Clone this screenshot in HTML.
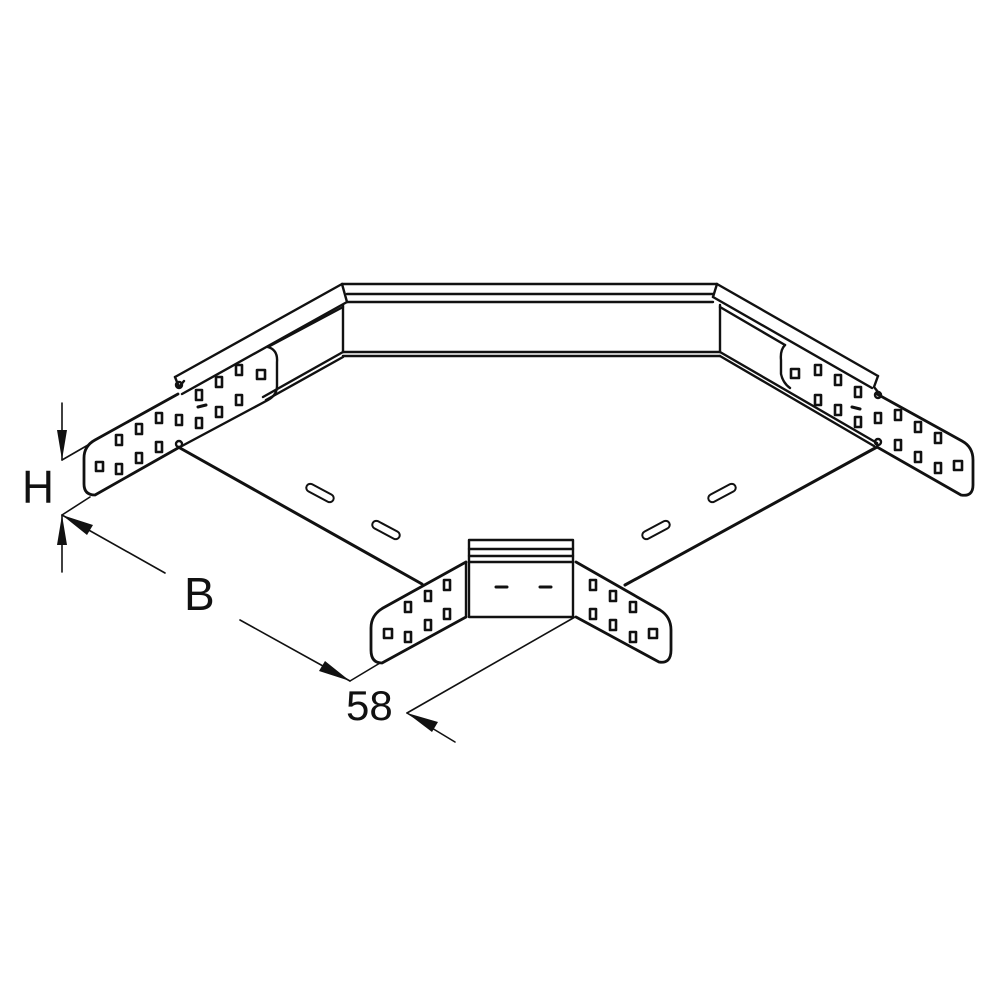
<!DOCTYPE html>
<html><head><meta charset="utf-8"><style>html,body{margin:0;padding:0;background:#fff}svg{display:block}</style></head>
<body>
<svg width="1000" height="1000" viewBox="0 0 1000 1000" xmlns="http://www.w3.org/2000/svg" fill="none" stroke="#111" stroke-width="2.4" stroke-linejoin="round" stroke-linecap="round">
<!-- back wall -->
<line x1="342" y1="284" x2="717" y2="284"/>
<line x1="347" y1="294" x2="713" y2="294"/>
<line x1="347" y1="302" x2="713" y2="302"/>
<line x1="342" y1="284" x2="347" y2="302"/>
<line x1="717" y1="284" x2="713" y2="297"/>
<line x1="343" y1="305" x2="343" y2="352"/>
<line x1="720" y1="305" x2="720" y2="352"/>
<line x1="343" y1="352" x2="720" y2="352"/>
<line x1="343" y1="356" x2="720" y2="356"/>
<!-- left wall -->
<line x1="342" y1="284" x2="175" y2="377"/>
<line x1="347" y1="302" x2="182" y2="394"/>
<path d="M175 377 L179 387 L184 381"/>
<line x1="343" y1="307" x2="268" y2="347"/>
<line x1="343" y1="352" x2="263" y2="397"/>
<line x1="343" y1="357" x2="266" y2="400"/>
<path d="M268 347 Q278 350 277 362 L277 386 Q277 395 268 400 L180 447"/>
<path d="M178 394 L95 440 Q84 446 84 458 L84 484 Q84 495 95 495 L178 448" stroke-width="2.8"/>
<circle cx="179" cy="385" r="3"/>
<circle cx="179" cy="444" r="3"/>
<!-- right wall -->
<line x1="717" y1="284" x2="878" y2="376"/>
<line x1="713" y1="297" x2="872" y2="388"/>
<path d="M878 376 L874 387 L878 392"/>
<line x1="720" y1="307" x2="785" y2="345"/>
<line x1="720" y1="352" x2="877" y2="443"/>
<line x1="720" y1="356" x2="874" y2="446"/>
<path d="M785 345 Q780 350 781 360 L781 374 Q783 383 790 388"/>
<path d="M877 394 L962 441 Q973 447 973 460 L973 485 Q973 497 961 495 L877 447" stroke-width="2.8"/>
<circle cx="878" cy="395" r="3"/>
<circle cx="878" cy="442" r="3"/>
<!-- floor edges -->
<line x1="180" y1="448" x2="422" y2="584" stroke-width="3"/>
<line x1="877" y1="447" x2="625" y2="585" stroke-width="3"/>
<!-- slots -->
<g stroke-width="2">
<rect x="305" y="489" width="30" height="8" rx="4" transform="rotate(28 320 493)"/>
<rect x="371" y="526" width="30" height="8" rx="4" transform="rotate(28 386 530)"/>
<rect x="707" y="489" width="30" height="8" rx="4" transform="rotate(-28 722 493)"/>
<rect x="641" y="526" width="30" height="8" rx="4" transform="rotate(-28 656 530)"/>
</g>
<!-- center box -->
<rect x="469" y="540" width="104" height="77"/>
<line x1="469" y1="549" x2="573" y2="549"/>
<line x1="469" y1="556" x2="573" y2="556"/>
<line x1="469" y1="562" x2="573" y2="562"/>
<line x1="496" y1="587" x2="507" y2="587" stroke-width="3"/>
<line x1="540" y1="587" x2="551" y2="587" stroke-width="3"/>
<path d="M466 562 L383 608 Q371 615 371 628 L371 650 Q371 663 382 663 L466 617" stroke-width="2.8"/>
<line x1="466" y1="562" x2="466" y2="617"/>
<path d="M576 562 L660 610 Q671 617 671 630 L671 650 Q671 664 659 662 L576 617" stroke-width="2.8"/>
<!-- holes -->
<g stroke-width="2.6">
<rect x="96" y="462" width="7" height="9"/>
<rect x="116" y="435" width="6" height="10"/><rect x="136" y="424" width="6" height="10"/><rect x="156" y="413" width="6" height="10"/><rect x="176" y="415" width="6" height="10"/>
<rect x="196" y="390" width="6" height="10"/><rect x="216" y="377" width="6" height="10"/><rect x="236" y="365" width="6" height="10"/><rect x="257" y="370" width="8" height="9"/>
<rect x="116" y="464" width="6" height="10"/><rect x="136" y="453" width="6" height="10"/><rect x="156" y="442" width="6" height="10"/>
<rect x="196" y="418" width="6" height="10"/><rect x="216" y="407" width="6" height="10"/><rect x="236" y="395" width="6" height="10"/>
<line x1="198" y1="407" x2="206" y2="405" stroke-width="3"/>
<rect x="791" y="369" width="8" height="9"/><rect x="815" y="365" width="6" height="10"/><rect x="835" y="375" width="6" height="10"/><rect x="855" y="387" width="6" height="10"/>
<rect x="815" y="395" width="6" height="10"/><rect x="835" y="405" width="6" height="10"/><rect x="855" y="417" width="6" height="10"/>
<rect x="875" y="413" width="6" height="10"/><rect x="895" y="410" width="6" height="10"/><rect x="915" y="422" width="6" height="10"/><rect x="935" y="433" width="6" height="10"/>
<rect x="895" y="440" width="6" height="10"/><rect x="915" y="452" width="6" height="10"/><rect x="935" y="463" width="6" height="10"/><rect x="954" y="461" width="8" height="9"/>
<line x1="852" y1="407" x2="860" y2="409" stroke-width="3"/>
<rect x="444" y="580" width="6" height="10"/><rect x="425" y="591" width="6" height="10"/><rect x="405" y="602" width="6" height="10"/><rect x="384" y="629" width="8" height="9"/>
<rect x="405" y="632" width="6" height="10"/><rect x="425" y="620" width="6" height="10"/><rect x="444" y="609" width="6" height="10"/>
<rect x="590" y="580" width="6" height="10"/><rect x="610" y="591" width="6" height="10"/><rect x="630" y="602" width="6" height="10"/>
<rect x="590" y="609" width="6" height="10"/><rect x="610" y="620" width="6" height="10"/><rect x="630" y="632" width="6" height="10"/><rect x="649" y="629" width="8" height="9"/>
</g>
<!-- dimensions -->
<g stroke-width="1.6">
<line x1="62" y1="403" x2="62" y2="460"/>
<line x1="62" y1="460" x2="88" y2="445"/>
<line x1="62" y1="515" x2="62" y2="572"/>
<line x1="62" y1="515" x2="90" y2="497"/>
<line x1="62" y1="515" x2="165" y2="573"/>
<line x1="240" y1="620" x2="350" y2="681"/>
<line x1="350" y1="681" x2="380" y2="663"/>
<line x1="407" y1="713" x2="575" y2="617"/>
<line x1="407" y1="713" x2="455" y2="742"/>
</g>
<g fill="#111" stroke="none">
<polygon points="62,460 57,430 67,430"/>
<polygon points="62,515 57,545 67,545"/>
<polygon points="62,515 93,525 87,535"/>
<polygon points="350,681 319,671 325,661"/>
<polygon points="407,713 438,722 432,732"/>
</g>
<g fill="#111" stroke="none" font-family="Liberation Sans, sans-serif">
<text x="22" y="503" font-size="46" textLength="32" lengthAdjust="spacingAndGlyphs">H</text>
<text x="184" y="610" font-size="46">B</text>
<text x="346" y="720" font-size="42">58</text>
</g>
</svg>
</body></html>
